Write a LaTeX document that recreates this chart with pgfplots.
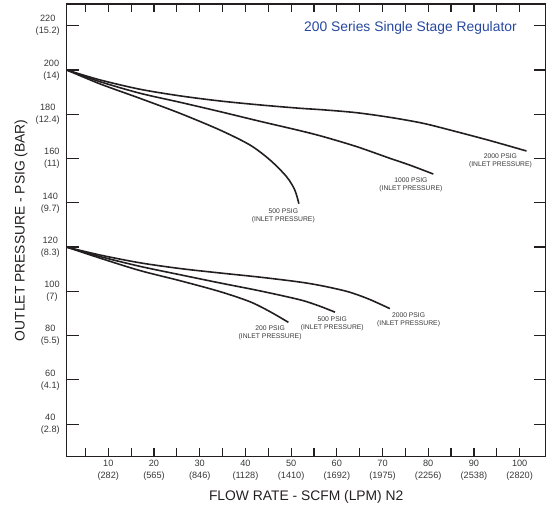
\documentclass[border=0pt]{standalone}
\usepackage{fontspec}
\setmainfont{Liberation Sans}
\usepackage{pgfplots}
\pgfplotsset{compat=1.18}
\definecolor{ttl}{RGB}{38,72,158}
\definecolor{ink}{RGB}{35,31,32}
\definecolor{lbl}{RGB}{55,55,55}
\tikzset{crv/.style={draw=ink, solid, line width=1.6bp, smooth, mark=none}}
\begin{document}
\begin{tikzpicture}
\path[use as bounding box] (-66.7bp,-52.3bp) rectangle (481.3bp,456.7bp);
\begin{axis}[
  at={(0,0)}, anchor=south west,
  scale only axis, width=479bp, height=452.7bp,
  xmin=0.9, xmax=105.7, ymin=25.3, ymax=229.8,
  axis line style={ink, line width=1.2bp},
  tick align=inside,
  major tick length=12bp, minor tick length=8.3bp,
  xtick style={/pgfplots/major tick length=8.3bp},
  tick style={ink, line width=1.2bp},
  xtick={10,20,...,100},
  minor xtick={5,15,...,95},
  ytick={40,60,...,220},
  xticklabels={{10\\(282)},{20\\(565)},{30\\(846)},{40\\(1128)},{50\\(1410)},{60\\(1692)},{70\\(1975)},{80\\(2256)},{90\\(2538)},{100\\(2820)}},
  yticklabels={{40\\(2.8)},{60\\(4.1)},{80\\(5.5)},{100\\(7)},{120\\(8.3)},{140\\(9.7)},{160\\(11)},{180\\(12.4)},{200\\(14)},{220\\(15.2)}},
  ticklabel style={font=\fontsize{9.2}{12}\selectfont, align=center, text=lbl},
  yticklabel style={xshift=-3.5bp},
  xlabel={FLOW RATE - SCFM (LPM) N2},
  ylabel={OUTLET PRESSURE - PSIG (BAR)},
  every axis x label/.style={at={(axis description cs:0.5,0)}, yshift=-40bp, anchor=center, font=\fontsize{13.9}{16}\selectfont, text=ink},
  every axis y label/.style={at={(axis description cs:0,0.5)}, xshift=-45.7bp, anchor=center, rotate=90, font=\fontsize{13.9}{16}\selectfont, text=ink},
]
% upper group
\addplot[crv] coordinates {(0.9,200) (8.2,195.5) (16.9,191.3) (25.7,188.3) (34.4,186.0) (43.2,184.2) (51.9,182.7) (57,182.0) (64.3,180.7) (71.6,178.6) (78.9,175.9) (86.2,172.1) (93.5,168.1) (101.5,163.4)};
\addplot[crv] coordinates {(0.9,200) (8.2,194.7) (16.9,189.5) (25.7,185.4) (34.4,181.2) (43.2,176.8) (51.9,172.6) (57,169.9) (64.3,165.4) (71.6,160.1) (76,157) (81.1,153.0)};
\addplot[crv] coordinates {(0.9,200) (8.2,193.7) (16.9,187.2) (25.7,180.4) (34.4,172.9) (41,166.1) (45.4,159.3) (49,151.8) (50.8,145.8) (51.7,139.6)};
% lower group
\addplot[crv] coordinates {(0.9,120) (8.2,116.4) (16.9,112.9) (25.7,110.3) (34.4,108.3) (43.2,106.4) (51.9,104.2) (57,102.4) (62.5,99.8) (67,96.5) (71.6,92.2)};
\addplot[crv] coordinates {(0.9,120) (8.2,115.7) (16.9,111.3) (25.7,107.5) (34.4,103.8) (43.2,100.2) (51.9,96.2) (56,93.5) (59.6,90.6)};
\addplot[crv] coordinates {(0.9,120) (8.2,115.0) (16.9,109.4) (25.7,104.8) (34.4,99.9) (41,95.3) (45.4,90.8) (49.4,86.0)};
% title
\node[anchor=base, text=ttl, font=\fontsize{13.9}{16}\selectfont] at (axis description cs:0.7177,0.9397) {200 Series Single Stage Regulator};
% curve labels
\begin{scope}[every node/.style={align=center, text=lbl, font=\fontsize{6.8}{8}\selectfont}]
\node at (axis cs:48.3,134.1) {500 PSIG\\(INLET PRESSURE)};
\node at (axis cs:76.2,148.3) {1000 PSIG\\(INLET PRESSURE)};
\node at (axis cs:95.8,159.0) {2000 PSIG\\(INLET PRESSURE)};
\node at (axis cs:45.4,81.3) {200 PSIG\\(INLET PRESSURE)};
\node at (axis cs:59.0,85.4) {500 PSIG\\(INLET PRESSURE)};
\node at (axis cs:75.7,87.1) {2000 PSIG\\(INLET PRESSURE)};
\end{scope}
\end{axis}
\end{tikzpicture}
\end{document}
